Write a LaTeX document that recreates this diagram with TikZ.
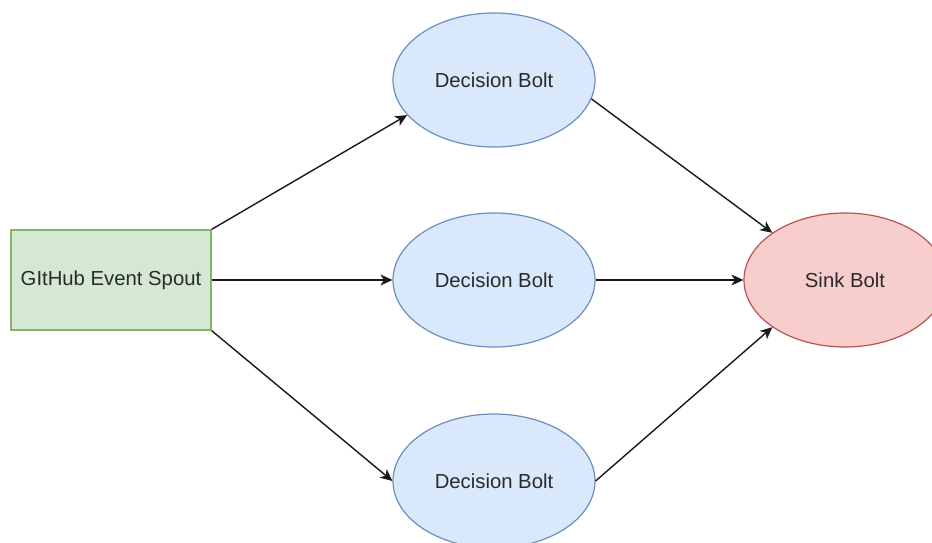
\documentclass[tikz,border=0pt]{standalone}
\usepackage{fontspec}
\setmainfont{Liberation Sans}
\usetikzlibrary{shapes.geometric,arrows.meta}

\definecolor{spoutfill}{HTML}{D5E8D4}
\definecolor{spoutline}{HTML}{82B366}
\definecolor{boltfill}{HTML}{DAE8FC}
\definecolor{boltline}{HTML}{6C8EBF}
\definecolor{sinkfill}{HTML}{F8CECC}
\definecolor{sinkline}{HTML}{B85450}
\definecolor{labeltext}{HTML}{2A2A2A}

\tikzset{
  label font/.style={font=\fontsize{20.3}{24}\selectfont, text=labeltext},
  spoutbox/.style={rectangle, draw=spoutline, fill=spoutfill, line width=1.2pt,
    minimum width=200pt, minimum height=100pt, inner sep=0pt, label font},
  boltnode/.style={ellipse, draw=boltline, fill=boltfill, line width=1.2pt,
    minimum width=202pt, minimum height=134pt, inner sep=0pt, label font},
  sinknode/.style={ellipse, draw=sinkline, fill=sinkfill, line width=1.2pt,
    minimum width=202pt, minimum height=134pt, inner sep=0pt, label font},
  flow/.style={draw=black!90, line width=1.4pt,
    -{Stealth[length=12pt,width=11pt,inset=3.5pt]}}
}

\begin{document}
\begin{tikzpicture}[x=1pt,y=-1pt]
  \useasboundingbox (0,0) rectangle (932,543);
  \clip (0,0) rectangle (932,543);
  \fill[white] (0,0) rectangle (932,543);

  % spout and bolts
  \node[spoutbox] (spout) at (111,280) {GItHub Event Spout};
  \node[boltnode] (d1) at (494,80)  {Decision Bolt};
  \node[boltnode] (d2) at (494,280) {Decision Bolt};
  \node[boltnode] (d3) at (494,481) {Decision Bolt};
  \node[sinknode] (sink) at (845,280) {Sink Bolt};

  % spout fans out to the decision bolts
  \draw[flow] (spout.north east) -- (d1.202);
  \draw[flow] (spout.east) -- (d2.west);
  \draw[flow] (spout.south east) -- (d3.west);

  % decision bolts feed the sink
  \draw[flow] (d1.349) -- (sink.147);
  \draw[flow] (d2.east) -- (sink.west);
  \draw[flow] (d3.east) -- (sink.213);
\end{tikzpicture}
\end{document}
